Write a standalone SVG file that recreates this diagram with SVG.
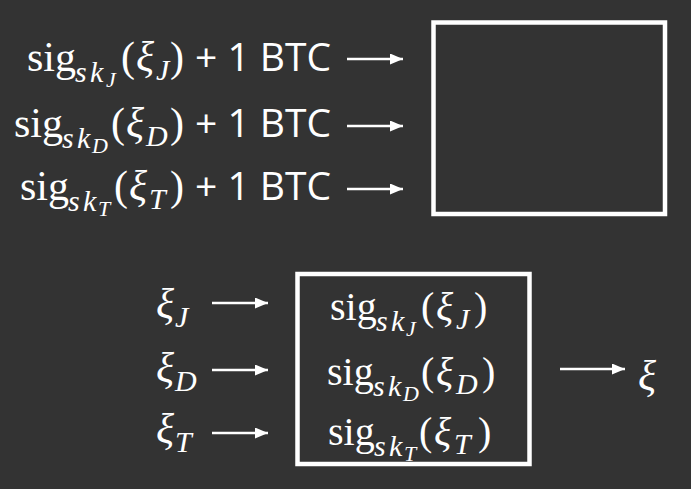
<svg xmlns="http://www.w3.org/2000/svg" width="691" height="489" viewBox="0 0 691 489">
<style>
.rm{font-family:"Liberation Serif","DejaVu Serif",serif;font-size:42px;fill:#ffffff}
.rm2{font-family:"Liberation Serif","DejaVu Serif",serif;font-size:40px;fill:#ffffff}
.it{font-style:italic}
.sub{font-family:"Liberation Serif","DejaVu Serif",serif;font-size:30px;fill:#ffffff;font-style:italic}
.ss{font-family:"Liberation Serif","DejaVu Serif",serif;font-size:22px;fill:#ffffff;font-style:italic}
.sans{font-family:"Open Sans","Liberation Sans",sans-serif;font-size:39px;fill:#ffffff}
.box{fill:none;stroke:#ffffff;stroke-width:4.5}
.arr{stroke:#ffffff;stroke-width:2.5;fill:none;marker-end:url(#ah)}
</style>
<defs>
<marker id="ah" markerUnits="userSpaceOnUse" markerWidth="13" markerHeight="11" refX="13" refY="5.5" orient="auto">
<path d="M0,0 L13,5.5 L0,11 z" fill="#ffffff"/>
</marker>
</defs>
<rect width="691" height="489" fill="#333333"/>

<g id="top-inputs">
<g id="in-J">
<text class="rm" x="27" y="71">sig</text>
<text class="sub" x="75 90" y="82">sk</text>
<text class="ss" x="106" y="87">J</text>
<text class="rm" x="121" y="71">(</text>
<text class="rm it" x="136" y="71">ξ</text>
<text class="sub" x="156" y="80">J</text>
<text class="rm" x="170" y="71">)</text>
<text class="sans" x="195" y="71">+ 1 BTC</text>
</g>
<g id="in-D">
<text class="rm" x="14" y="137">sig</text>
<text class="sub" x="62 77" y="148">sk</text>
<text class="ss" x="92" y="153">D</text>
<text class="rm" x="111" y="137">(</text>
<text class="rm it" x="126" y="137">ξ</text>
<text class="sub" x="146" y="146">D</text>
<text class="rm" x="170" y="137">)</text>
<text class="sans" x="195" y="137">+ 1 BTC</text>
</g>
<g id="in-T">
<text class="rm" x="20" y="200">sig</text>
<text class="sub" x="68 83" y="211">sk</text>
<text class="ss" x="98" y="216">T</text>
<text class="rm" x="114" y="200">(</text>
<text class="rm it" x="129" y="200">ξ</text>
<text class="sub" x="149" y="209">T</text>
<text class="rm" x="170" y="200">)</text>
<text class="sans" x="195" y="200">+ 1 BTC</text>
</g>
</g>

<g id="top-box">
<rect class="box" x="433.5" y="22.5" width="231.5" height="191.5"/>
</g>

<g id="bottom-inputs">
<g id="xi-J"><text class="rm it" x="156" y="318">ξ</text><text class="sub" x="175" y="327">J</text></g>
<g id="xi-D"><text class="rm it" x="156" y="382">ξ</text><text class="sub" x="175" y="391">D</text></g>
<g id="xi-T"><text class="rm it" x="156" y="443">ξ</text><text class="sub" x="175" y="452">T</text></g>
</g>

<g id="bottom-box">
<rect class="box" x="297.5" y="274" width="232" height="190"/>
<g id="sig-J">
<text class="rm2" x="330" y="320">sig</text>
<text class="sub" x="376 391" y="331">sk</text>
<text class="ss" x="406" y="336">J</text>
<text class="rm2" x="421" y="320">(</text>
<text class="rm2 it" x="436" y="320">ξ</text>
<text class="sub" x="456" y="329">J</text>
<text class="rm2" x="474" y="320">)</text>
</g>
<g id="sig-D">
<text class="rm2" x="327" y="385">sig</text>
<text class="sub" x="373 388" y="396">sk</text>
<text class="ss" x="403" y="401">D</text>
<text class="rm2" x="421" y="385">(</text>
<text class="rm2 it" x="436" y="385">ξ</text>
<text class="sub" x="456" y="394">D</text>
<text class="rm2" x="482" y="385">)</text>
</g>
<g id="sig-T">
<text class="rm2" x="328" y="445">sig</text>
<text class="sub" x="374 389" y="456">sk</text>
<text class="ss" x="404" y="461">T</text>
<text class="rm2" x="419" y="445">(</text>
<text class="rm2 it" x="434" y="445">ξ</text>
<text class="sub" x="454" y="454">T</text>
<text class="rm2" x="478" y="445">)</text>
</g>
</g>

<g id="output">
<text class="rm it" x="638" y="390">ξ</text>
</g>

<g id="connectors">
<line class="arr" x1="347" y1="59" x2="403" y2="59"/>
<line class="arr" x1="347" y1="126" x2="403" y2="126"/>
<line class="arr" x1="347" y1="189" x2="403" y2="189"/>
<line class="arr" x1="212" y1="303" x2="268" y2="303"/>
<line class="arr" x1="212" y1="370" x2="268" y2="370"/>
<line class="arr" x1="212" y1="433" x2="268" y2="433"/>
<line class="arr" x1="560" y1="369" x2="625" y2="369"/>
</g>
</svg>
